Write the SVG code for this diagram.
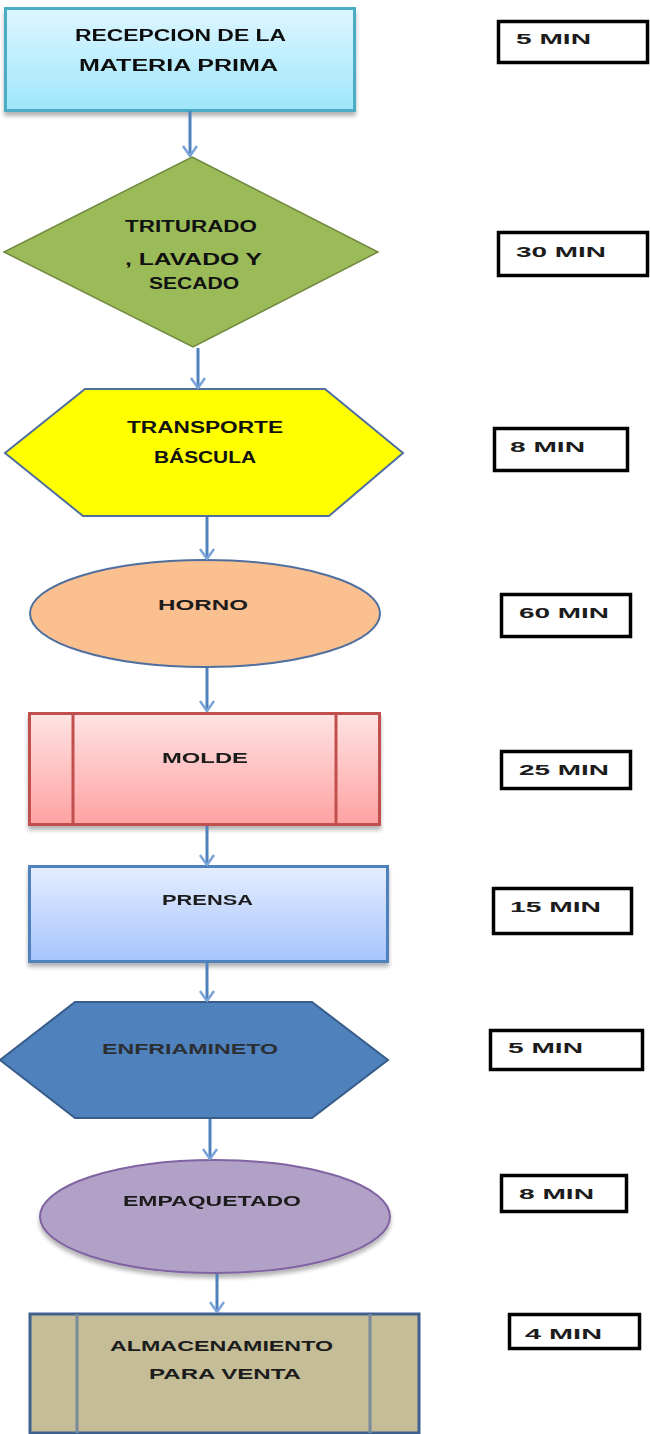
<svg xmlns="http://www.w3.org/2000/svg" width="650" height="1434" viewBox="0 0 650 1434">
<defs>
<linearGradient id="gCyan" x1="0" y1="0" x2="0" y2="1"><stop offset="0" stop-color="#ddf6ff"/><stop offset="1" stop-color="#9fe6fb"/></linearGradient>
<linearGradient id="gPink" x1="0" y1="0" x2="0" y2="1"><stop offset="0" stop-color="#ffe3e3"/><stop offset="1" stop-color="#ffa2a2"/></linearGradient>
<linearGradient id="gBlue" x1="0" y1="0" x2="0" y2="1"><stop offset="0" stop-color="#e4eeff"/><stop offset="1" stop-color="#a6c3fb"/></linearGradient>
<filter id="sh" x="-10%" y="-10%" width="120%" height="130%"><feGaussianBlur in="SourceAlpha" stdDeviation="2"/><feOffset dx="0" dy="4"/><feComponentTransfer><feFuncA type="linear" slope="0.3"/></feComponentTransfer><feMerge><feMergeNode/><feMergeNode in="SourceGraphic"/></feMerge></filter>
<marker id="arr" viewBox="0 -8 12 16" refX="11" refY="0" markerWidth="12" markerHeight="16" markerUnits="userSpaceOnUse" orient="auto"><path d="M1,-7 L11,0 L1,7" fill="none" stroke="#7aa3d8" stroke-width="2.5"/></marker>
</defs>
<style>
.t{font-family:"Liberation Sans",Arial,sans-serif;font-weight:bold;font-size:16px;fill:#111;}
.s{font-family:"Liberation Sans",Arial,sans-serif;font-weight:bold;font-size:14px;fill:#1c1c1c;}
.b{fill:#fff;stroke:#000;stroke-width:3.5;}
.c{stroke:#4f81bd;stroke-width:3;fill:none;}
</style>

<g id="n1" filter="url(#sh)">
<rect x="5.5" y="8.5" width="349" height="102" fill="url(#gCyan)" stroke="#4bacc6" stroke-width="3"/>
<text class="t" x="75" y="41" textLength="211" lengthAdjust="spacingAndGlyphs">RECEPCION DE LA</text>
<text class="t" x="79" y="71" textLength="199" lengthAdjust="spacingAndGlyphs">MATERIA  PRIMA</text>
</g>

<g id="n2">
<polygon points="192,157 378,252 193,347 4,252" fill="#9bbb59" stroke="#71893f" stroke-width="1.5"/>
<text class="t" x="125" y="232" textLength="132" lengthAdjust="spacingAndGlyphs">TRITURADO</text>
<text class="t" x="125" y="265" textLength="137" lengthAdjust="spacingAndGlyphs">, LAVADO  Y</text>
<text class="t" x="149" y="289" textLength="90" lengthAdjust="spacingAndGlyphs">SECADO</text>
</g>

<g id="n3">
<polygon points="85,389 325,389 403,453 329,516 83,516 5,453" fill="#ffff00" stroke="#4f6f9f" stroke-width="2"/>
<text class="t" x="127" y="433" textLength="156" lengthAdjust="spacingAndGlyphs">TRANSPORTE</text>
<text class="t" x="154" y="463" textLength="102" lengthAdjust="spacingAndGlyphs">BÁSCULA</text>
</g>

<g id="n4">
<ellipse cx="205" cy="613.5" rx="175" ry="53.5" fill="#fac090" stroke="#4f6f9f" stroke-width="2"/>
<text class="s" x="158" y="610" textLength="90" lengthAdjust="spacingAndGlyphs">HORNO</text>
</g>

<g id="n5" filter="url(#sh)">
<rect x="29.5" y="713.5" width="350" height="111" fill="url(#gPink)" stroke="#c0504d" stroke-width="3"/>
<line x1="73" y1="713" x2="73" y2="825" stroke="#c0504d" stroke-width="3"/>
<line x1="336" y1="713" x2="336" y2="825" stroke="#c0504d" stroke-width="3"/>
<text class="s" x="162" y="763" textLength="86" lengthAdjust="spacingAndGlyphs">MOLDE</text>
</g>

<g id="n6" filter="url(#sh)">
<rect x="29.5" y="866.5" width="358" height="95" fill="url(#gBlue)" stroke="#4f81bd" stroke-width="3"/>
<text class="s" x="162" y="905" textLength="91" lengthAdjust="spacingAndGlyphs">PRENSA</text>
</g>

<g id="n7">
<polygon points="75,1002 312,1002 388,1060 312,1118 75,1118 0,1060" fill="#4f81bd" stroke="#385d8a" stroke-width="2"/>
<text class="s" x="102" y="1054" textLength="176" lengthAdjust="spacingAndGlyphs" style="fill:#2b2f33">ENFRIAMINETO</text>
</g>

<g id="n8" filter="url(#sh)">
<ellipse cx="215" cy="1216.5" rx="175" ry="56.5" fill="#b2a1c7" stroke="#8064a2" stroke-width="2"/>
<text class="s" x="123" y="1206" textLength="178" lengthAdjust="spacingAndGlyphs">EMPAQUETADO</text>
</g>

<g id="n9">
<rect x="30" y="1314" width="389" height="119" fill="#c4bd97" stroke="#3f6190" stroke-width="3"/>
<line x1="77" y1="1314" x2="77" y2="1433" stroke="#7a8a9a" stroke-width="3"/>
<line x1="370" y1="1314" x2="370" y2="1433" stroke="#7a8a9a" stroke-width="3"/>
<text class="s" x="110" y="1351" textLength="223" lengthAdjust="spacingAndGlyphs">ALMACENAMIENTO</text>
<text class="s" x="149" y="1379" textLength="152" lengthAdjust="spacingAndGlyphs">PARA  VENTA</text>
</g>

<g id="t1"><rect class="b" x="498.5" y="21.5" width="149" height="41"/><text class="s" x="516" y="44" textLength="75" lengthAdjust="spacingAndGlyphs">5 MIN</text></g>
<g id="t2"><rect class="b" x="498.5" y="232.5" width="149" height="43"/><text class="s" x="516" y="257" textLength="90" lengthAdjust="spacingAndGlyphs">30 MIN</text></g>
<g id="t3"><rect class="b" x="494.5" y="428.5" width="133" height="42"/><text class="s" x="510" y="452" textLength="75" lengthAdjust="spacingAndGlyphs">8 MIN</text></g>
<g id="t4"><rect class="b" x="501.5" y="594.5" width="129" height="42"/><text class="s" x="519" y="618" textLength="90" lengthAdjust="spacingAndGlyphs">60 MIN</text></g>
<g id="t5"><rect class="b" x="501.5" y="751.5" width="129" height="37"/><text class="s" x="519" y="775" textLength="90" lengthAdjust="spacingAndGlyphs">25 MIN</text></g>
<g id="t6"><rect class="b" x="493.5" y="888.5" width="138" height="45"/><text class="s" x="510" y="912" textLength="91" lengthAdjust="spacingAndGlyphs">15 MIN</text></g>
<g id="t7"><rect class="b" x="490.5" y="1030.5" width="152" height="39"/><text class="s" x="508" y="1053" textLength="75" lengthAdjust="spacingAndGlyphs">5 MIN</text></g>
<g id="t8"><rect class="b" x="501.5" y="1175.5" width="125" height="36"/><text class="s" x="519" y="1199" textLength="75" lengthAdjust="spacingAndGlyphs">8 MIN</text></g>
<g id="t9"><rect class="b" x="509.5" y="1314.5" width="130" height="34"/><text class="s" x="525" y="1339" textLength="77" lengthAdjust="spacingAndGlyphs">4 MIN</text></g>

<g id="connectors">
<line class="c" x1="190" y1="111" x2="190" y2="156" marker-end="url(#arr)"/>
<line class="c" x1="198" y1="348" x2="198" y2="388" marker-end="url(#arr)"/>
<line class="c" x1="207" y1="517" x2="207" y2="559" marker-end="url(#arr)"/>
<line class="c" x1="207" y1="668" x2="207" y2="711" marker-end="url(#arr)"/>
<line class="c" x1="207" y1="826" x2="207" y2="865" marker-end="url(#arr)"/>
<line class="c" x1="207" y1="963" x2="207" y2="1001" marker-end="url(#arr)"/>
<line class="c" x1="210" y1="1119" x2="210" y2="1159" marker-end="url(#arr)"/>
<line class="c" x1="217" y1="1274" x2="217" y2="1312" marker-end="url(#arr)"/>
</g>
</svg>
